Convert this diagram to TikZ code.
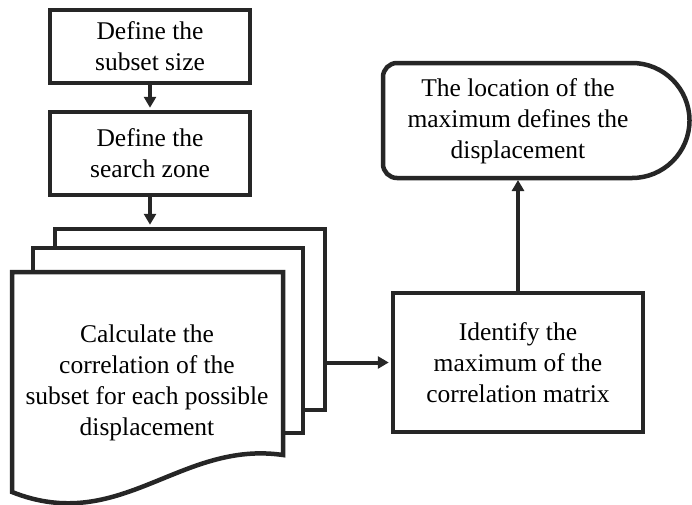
\documentclass[tikz,border=0pt]{standalone}
\usepackage{fontspec}
\setmainfont{Liberation Serif}
\usetikzlibrary{arrows.meta}
\definecolor{linegray}{HTML}{262626}
\begin{document}
\begin{tikzpicture}[x=1pt, y=-1pt,
    txt/.style={align=center, inner sep=0pt, font=\fontsize{25.5}{31}\selectfont},
    box/.style={txt, draw=linegray, line width=4.5pt, fill=white},
    sheet/.style={draw=linegray, line width=4.5pt, fill=white},
    flow/.style={draw=linegray, line width=4pt, shorten >=2pt, -{Triangle[length=11pt,width=12pt]}}]
  \useasboundingbox (0,0) rectangle (692,504);
  % first two steps
  \node[box, minimum width=200pt, minimum height=73pt] (size) at (150,46.5) {Define the\\subset size};
  \node[box, minimum width=200pt, minimum height=83pt] (zone) at (150,153.5) {Define the\\search zone};
  % stack of documents
  \node[sheet, inner sep=0pt, minimum width=270pt, minimum height=181pt] (back) at (190,319.5) {};
  \node[sheet, inner sep=0pt, minimum width=270pt, minimum height=185pt] (mid) at (168,340.5) {};
  \draw[sheet] (12,272) -- (283,272) -- (283,455) .. controls (180,440) and (120,535) .. (12,492) -- cycle;
  \node[txt] (calc) at (147,383) {Calculate the\\correlation of the\\subset for each possible\\displacement};
  % right column
  \node[box, minimum width=250pt, minimum height=139pt] (ident) at (518,362.5) {Identify the\\maximum of the\\correlation matrix};
  \draw[sheet] (397,63) -- (632,63) arc[start angle=-90, end angle=90, radius=57.5] -- (397,178)
    arc[start angle=90, end angle=180, radius=14] -- (383,77) arc[start angle=180, end angle=270, radius=14] -- cycle;
  \node[txt] (loc) at (518,121.5) {The location of the\\maximum defines the\\displacement};
  \coordinate (locbot) at (518,178);
  % arrows
  \draw[flow] (size) -- (zone);
  \draw[flow] (zone.south) -- (zone.south |- back.north);
  \draw[flow] (back.east |- ident.west) -- (ident.west);
  \draw[flow] (ident) -- (locbot);
\end{tikzpicture}
\end{document}
